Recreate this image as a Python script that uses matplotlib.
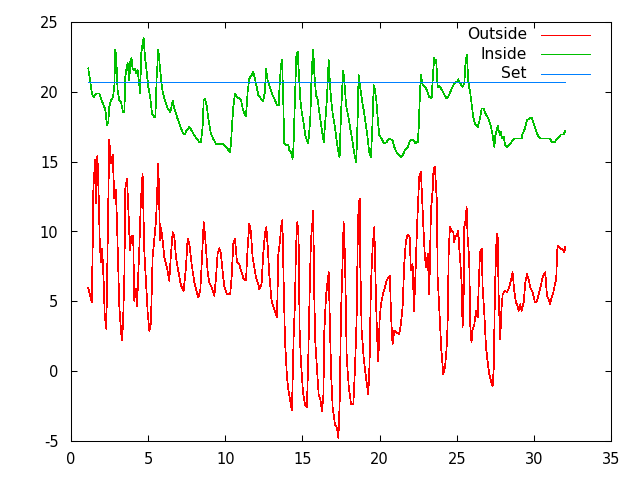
import matplotlib
matplotlib.use("Agg")
import matplotlib.pyplot as plt

# Outside temperature
out_x = [1.12, 1.25, 1.34, 1.40, 1.45, 1.56, 1.62, 1.71, 1.80, 1.86, 1.94, 2.02, 2.12, 2.18, 2.29, 2.38,
         2.48, 2.59, 2.70, 2.81, 2.90, 2.97, 3.13, 3.24, 3.30, 3.37, 3.46, 3.52, 3.63, 3.73, 3.82, 3.92,
         4.03, 4.10, 4.20, 4.28, 4.43, 4.53, 4.64, 4.75, 4.86, 4.97, 5.08, 5.18, 5.29, 5.51, 5.66, 5.77,
         5.83, 5.94, 6.05, 6.22, 6.37, 6.48, 6.59, 6.70, 6.80, 6.95, 7.13, 7.30, 7.45, 7.56, 7.67, 7.82,
         7.99, 8.10, 8.25, 8.38, 8.47, 8.60, 8.68, 8.79, 8.85, 8.96, 9.11, 9.29, 9.40, 9.50, 9.61, 9.72,
         9.83, 9.93, 10.11, 10.32, 10.41, 10.52, 10.63, 10.76, 10.91, 11.02, 11.19, 11.34, 11.45, 11.56,
         11.66, 11.77, 11.88, 11.99, 12.14, 12.20, 12.35, 12.46, 12.57, 12.66, 12.74, 12.85, 13.00, 13.18,
         13.35, 13.44, 13.55, 13.61, 13.70, 13.78, 13.87, 14.00, 14.10, 14.21, 14.32, 14.43, 14.52, 14.58,
         14.67, 14.75, 14.82, 14.90, 15.03, 15.16, 15.29, 15.38, 15.46, 15.55, 15.64, 15.70, 15.77, 15.83,
         15.94, 16.05, 16.16, 16.27, 16.36, 16.42, 16.53, 16.64, 16.70, 16.77, 16.86, 16.96, 17.11, 17.24,
         17.33, 17.41, 17.50, 17.61, 17.67, 17.76, 17.87, 18.00, 18.15, 18.30, 18.40, 18.51, 18.58, 18.64,
         18.71, 18.75, 18.84, 18.97, 19.12, 19.27, 19.35, 19.44, 19.55, 19.66, 19.74, 19.83, 19.92, 20.00,
         20.09, 20.22, 20.35, 20.46, 20.57, 20.67, 20.74, 20.84, 20.95, 21.10, 21.27, 21.38, 21.49, 21.60,
         21.71, 21.82, 21.95, 22.03, 22.14, 22.23, 22.32, 22.42, 22.50, 22.57, 22.68, 22.77, 22.85, 22.94,
         23.03, 23.12, 23.22, 23.33, 23.44, 23.50, 23.59, 23.65, 23.72, 23.76, 23.83, 23.91, 24.00, 24.13,
         24.24, 24.34, 24.41, 24.48, 24.56, 24.67, 24.78, 24.84, 24.90, 25.01, 25.10, 25.16, 25.23, 25.32,
         25.38, 25.45, 25.49, 25.58, 25.64, 25.71, 25.81, 25.88, 25.96, 26.03, 26.13, 26.25, 26.36, 26.42,
         26.51, 26.62, 26.68, 26.79, 26.90, 27.00, 27.11, 27.22, 27.33, 27.40, 27.48, 27.59, 27.66, 27.72,
         27.82, 27.90, 27.98, 28.13, 28.26, 28.40, 28.51, 28.62, 28.73, 28.84, 28.94, 29.01, 29.12, 29.20,
         29.34, 29.45, 29.55, 29.66, 29.77, 29.92, 30.07, 30.20, 30.31, 30.46, 30.56, 30.67, 30.74, 30.85,
         30.96, 31.04, 31.15, 31.26, 31.37, 31.45, 31.50, 31.54, 31.65, 31.75, 31.86, 31.97, 32.03]
out_t = [5.95, 5.4, 4.92, 8.5, 13.06, 15.14, 12.0, 15.45, 12.35, 9.35, 7.79, 8.77, 6.36, 4.11, 3.03, 9.35,
         16.58, 14.88, 15.5, 12.37, 13.0, 11.03, 4.68, 2.89, 2.22, 3.3, 6.96, 13.06, 13.78, 11.27, 8.63, 9.7,
         9.7, 5.04, 5.88, 4.68, 8.87, 12.22, 14.14, 8.63, 6.36, 4.2, 2.89, 3.4, 8.15, 10.79, 14.86, 9.35,
         10.3, 9.35, 8.15, 7.43, 6.48, 8.4, 9.95, 9.6, 8.15, 7.2, 6.12, 5.76, 7.43, 9.47, 9.1, 7.67,
         6.36, 5.88, 5.28, 5.76, 7.67, 10.67, 9.83, 8.15, 7.2, 6.36, 6.0, 5.4, 6.72, 8.39, 8.8, 8.39,
         7.1, 6.1, 5.52, 5.52, 6.72, 9.1, 9.47, 7.79, 7.67, 7.2, 6.6, 6.48, 8.87, 10.55,
         9.95, 8.15, 7.43, 6.72, 6.24, 5.88, 6.24, 8.39, 9.83, 10.31, 9.1, 6.96, 5.04, 4.44,
         3.85, 8.39, 9.35, 10.31, 10.83, 6.48, 2.17, -0.46, -1.42, -2.14, -2.8, 2.41, 5.04, 8.87,
         10.67, 9.6, 2.89, 0.73, -1.42, -2.37, -2.6, 0.97, 5.28, 9.35, 10.55, 11.46, 5.28, 2.17,
         0.26, -1.66, -2.0, -2.86, -1.66, 2.89, 5.4, 6.48, 7.08, 3.85, -0.22, -2.62, -3.81, -4.05,
         -4.77, -2.37, 4.08, 8.15, 10.67, 8.15, 0.97, -1.06, -2.37, -2.37, 0.02, 3.6, 9.1, 11.98,
         12.34, 7.67, 2.89, 0.97, -0.46, -1.66, 0.5, 6.24, 8.87, 10.31, 6.48, 2.65, 0.73, 3.6,
         4.8, 5.52, 6.0, 6.48, 6.72, 6.84, 4.08, 1.93, 2.89, 2.77, 2.65, 3.37, 4.56, 7.67,
         9.35, 9.79, 9.6, 7.2, 7.67, 4.32, 6.72, 10.07, 12.22, 13.9, 14.26, 11.98, 10.07, 8.15,
         7.43, 8.39, 5.52, 11.5, 12.94, 14.5, 14.6, 13.3, 12.1, 6.84, 5.28, 3.49, 1.57, -0.22,
         0.26, 1.57, 3.37, 8.51, 10.36, 10.07, 9.95, 9.23, 9.6, 9.7, 10.07, 8.87, 7.9, 6.24,
         3.13, 5.52, 10.31, 10.79, 11.79, 9.58, 8.03, 3.25, 2.05, 3.0, 3.25, 4.32, 3.85, 6.0,
         8.51, 8.75, 6.0, 4.08, 1.69, 0.73, -0.22, -0.7, -1.06, 0.26, 5.88, 9.83, 9.55, 5.28,
         2.29, 4.44, 5.52, 5.76, 5.64, 6.0, 6.48, 7.08, 5.76, 4.92, 4.68, 4.32, 4.8, 4.32,
         4.92, 6.36, 6.96, 6.6, 6.0, 5.64, 4.92, 5.04, 5.52, 6.12, 6.72, 6.96, 7.08, 5.4,
         5.16, 4.8, 5.28, 5.64, 6.24, 6.6, 8.27, 8.99, 8.87, 8.75, 8.75, 8.5, 8.9]

# Inside temperature
in_x = [1.12, 1.18, 1.30, 1.36, 1.47, 1.62, 1.84, 1.94, 2.12, 2.23, 2.33, 2.42, 2.48, 2.59, 2.72, 2.81,
        2.87, 2.94, 3.02, 3.13, 3.24, 3.37, 3.46, 3.52, 3.60, 3.67, 3.78, 3.84, 3.92, 3.99, 4.05, 4.14,
        4.23, 4.32, 4.43, 4.49, 4.54, 4.64, 4.71, 4.79, 4.88, 5.01, 5.14, 5.25, 5.40, 5.47, 5.55, 5.66,
        5.77, 5.90, 6.05, 6.16, 6.27, 6.44, 6.59, 6.70, 6.87, 7.02, 7.23, 7.38, 7.49, 7.67, 7.82, 7.99,
        8.16, 8.31, 8.42, 8.53, 8.60, 8.68, 8.79, 8.92, 9.07, 9.22, 9.40, 9.61, 9.83, 9.98, 10.15, 10.30,
        10.37, 10.43, 10.52, 10.63, 10.76, 10.91, 11.02, 11.13, 11.23, 11.34, 11.45, 11.56, 11.71, 11.81,
        11.99, 12.14, 12.31, 12.46, 12.57, 12.64, 12.74, 12.92, 13.07, 13.22, 13.35, 13.46, 13.52, 13.61,
        13.68, 13.76, 13.82, 13.93, 14.09, 14.15, 14.26, 14.36, 14.42, 14.52, 14.60, 14.69, 14.75, 14.86,
        14.94, 15.06, 15.19, 15.30, 15.38, 15.51, 15.59, 15.66, 15.70, 15.77, 15.88, 15.98, 16.09, 16.20,
        16.31, 16.38, 16.46, 16.59, 16.70, 16.79, 16.85, 16.96, 17.11, 17.24, 17.33, 17.41, 17.50, 17.59,
        17.65, 17.72, 17.83, 17.98, 18.10, 18.25, 18.40, 18.49, 18.58, 18.64, 18.73, 18.86, 19.01, 19.18,
        19.33, 19.44, 19.53, 19.62, 19.70, 19.79, 19.88, 19.98, 20.13, 20.30, 20.46, 20.63, 20.84, 20.95,
        21.10, 21.28, 21.38, 21.49, 21.64, 21.82, 21.99, 22.21, 22.32, 22.47, 22.53, 22.62, 22.68, 22.79,
        22.94, 23.07, 23.22, 23.37, 23.46, 23.54, 23.61, 23.67, 23.76, 23.87, 24.02, 24.19, 24.34, 24.51,
        24.67, 24.84, 25.02, 25.10, 25.23, 25.38, 25.49, 25.58, 25.66, 25.75, 25.88, 25.96, 26.07, 26.18,
        26.36, 26.51, 26.62, 26.75, 26.86, 27.00, 27.13, 27.22, 27.31, 27.39, 27.44, 27.50, 27.59, 27.66,
        27.72, 27.81, 27.87, 27.94, 28.05, 28.13, 28.26, 28.40, 28.55, 28.73, 28.99, 29.20, 29.27, 29.42,
        29.55, 29.70, 29.86, 29.96, 30.07, 30.20, 30.31, 30.46, 30.67, 30.89, 31.05, 31.15, 31.37, 31.50,
        31.65, 31.75, 31.93, 32.03]
in_t = [21.68, 21.2, 20.36, 19.83, 19.64, 19.88, 19.88, 19.52, 19.04, 18.68, 17.6, 17.84, 18.92, 19.4, 19.6, 20.48,
        23.04, 22.3, 20.12, 19.4, 19.3, 18.56, 18.56, 21.08, 21.68, 22.04, 20.84, 22.16, 22.4, 21.68, 21.56, 21.68,
        21.32, 21.56, 20.48, 19.88, 22.63, 23.47, 23.83, 22.52, 21.68, 20.36, 19.52, 18.44, 18.2, 18.2, 20.96, 23.04,
        21.68, 20.24, 19.52, 19.16, 18.8, 18.56, 19.35, 18.8, 18.2, 17.72, 17.12, 16.95, 17.24, 17.48, 17.24, 16.88,
        16.64, 16.4, 16.4, 17.48, 19.4, 19.52, 19.04, 17.96, 17.0, 16.64, 16.28, 16.28, 16.28, 16.16, 15.92, 15.68,
        16.28, 17.48, 18.92, 19.88, 19.6, 19.52, 19.4, 18.8, 18.44, 18.25, 20.0, 20.96, 21.2, 21.44,
        20.6, 19.76, 19.52, 19.35, 20.0, 21.68, 20.84, 20.24, 19.76, 19.4, 19.04, 19.04, 20.48, 21.92,
        22.27, 19.28, 16.29, 16.17, 16.17, 15.81, 15.69, 15.21, 16.05, 19.64, 22.51, 22.87, 21.68, 19.52,
        18.68, 17.85, 16.89, 16.53, 16.33, 18.1, 21.08, 22.51, 23.04, 21.32, 19.76, 19.52, 18.56, 17.72,
        16.89, 16.41, 17.6, 19.52, 22.27, 20.48, 19.52, 18.44, 17.48, 16.29, 15.69, 15.33, 18.44, 20.48,
        21.51, 20.72, 19.04, 18.2, 17.36, 16.41, 15.33, 14.97, 18.2, 21.2, 20.48, 19.4, 18.44, 17.12,
        15.69, 15.33, 17.48, 20.48, 20.12, 19.4, 18.08, 16.89, 16.65, 16.29, 16.41, 16.65, 16.53, 16.05,
        15.69, 15.45, 15.33, 15.45, 15.81, 16.05, 16.53, 16.53, 16.33, 16.41, 17.24, 20.0, 21.2, 20.48,
        20.36, 20.12, 19.64, 19.52, 21.2, 22.45, 22.04, 22.27, 20.36, 20.4, 20.18, 19.82, 19.52, 19.76,
        20.24, 20.6, 20.72, 20.9, 20.6, 20.36, 20.6, 22.27, 22.63, 20.72, 19.88, 19.16, 18.2, 17.72,
        17.48, 18.08, 18.8, 18.8, 18.44, 18.2, 17.84, 17.48, 17.0, 16.41, 16.05, 16.89, 17.24, 17.6,
        17.24, 16.89, 17.12, 16.65, 16.77, 16.17, 16.05, 16.17, 16.41, 16.65, 16.65, 16.65, 17.0, 17.36,
        17.96, 18.08, 18.15, 17.84, 17.48, 17.0, 16.77, 16.65, 16.65, 16.65, 16.65, 16.41, 16.41, 16.65,
        16.77, 16.95, 16.95, 17.2]

# Set point
set_x = [1.12, 32.03]
set_t = [20.7, 20.7]

series_names = ["Outside", "Inside", "Set"]
series_colors = ["#ff0000", "#00c000", "#0080ff"]

plt.rcParams['font.family'] = ['DejaVu Sans']
plt.rcParams['axes.unicode_minus'] = False

fig = plt.figure(figsize=(6.4, 4.8), dpi=100)
ax = fig.add_axes([71 / 640, 1 - 441 / 480, 540 / 640, 419 / 480])

lw = 0.5
ax.plot(out_x, out_t, color=series_colors[0], lw=lw, antialiased=False)
ax.plot(in_x, in_t, color=series_colors[1], lw=lw, antialiased=False)
ax.plot(set_x, set_t, color=series_colors[2], lw=lw, antialiased=False)

ax.set_xlim(0, 35)
ax.set_ylim(-5, 25)
ax.set_xticks(range(0, 36, 5))
ax.set_yticks(range(-5, 26, 5))

for s in ax.spines.values():
    s.set_linewidth(0.75)
ax.tick_params(direction="in", length=4, width=0.75, top=True, right=True,
               labelsize=10.5, colors="black")
ax.tick_params(axis="x", pad=8)
ax.tick_params(axis="y", pad=9)

# legend, gnuplot style: right aligned text, sample line to the right
rows = [0.969, 0.923, 0.877]
for name, col, yy in zip(series_names, series_colors, rows):
    ax.text(0.844, yy, name, transform=ax.transAxes, ha="right", va="center", fontsize=11.2)
    ax.plot([0.870, 0.961], [yy, yy], transform=ax.transAxes, color=col, lw=lw, antialiased=False)

fig.savefig("out.png", dpi=100)
